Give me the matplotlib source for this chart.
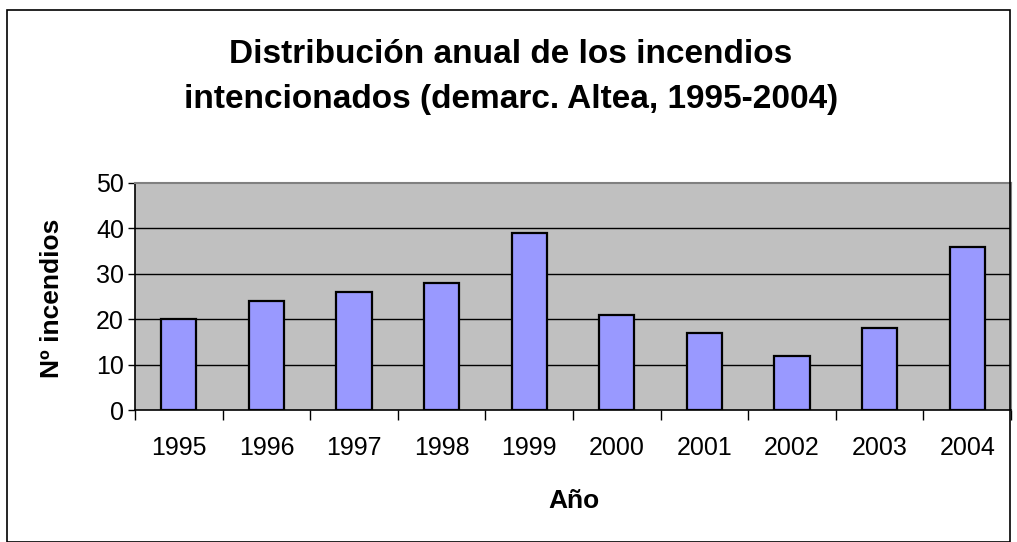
import matplotlib
matplotlib.use("Agg")
import matplotlib.pyplot as plt
from matplotlib.patches import Rectangle

years = ["1995", "1996", "1997", "1998", "1999", "2000", "2001", "2002", "2003", "2004"]
incendios = [20, 24, 26, 28, 39, 21, 17, 12, 18, 36]
yticks = [0, 10, 20, 30, 40, 50]
title_lines = ["Distribución anual de los incendios", "intencionados (demarc. Altea, 1995-2004)"]

plt.rcParams['font.family'] = ['Liberation Sans', 'DejaVu Sans']

W, H = 1017, 542
fig = plt.figure(figsize=(W / 100, H / 100), dpi=100)
fig.patch.set_facecolor('white')

def fx(px):
    return px / W

def fy(py):
    return 1 - py / H

# outer chart border
fig.add_artist(Rectangle((fx(7), 0), fx(1010 - 7), (H - 10) / H, transform=fig.transFigure,
                         fill=False, edgecolor='black', linewidth=1.2))

left, right, top, bottom = 135, 1011, 183, 410
ax = fig.add_axes([fx(left), fy(bottom), fx(right - left), (bottom - top) / H])
ax.set_facecolor('#C0C0C0')

x = list(range(len(years)))
ax.bar(x, incendios, width=0.4, color='#9999FF', edgecolor='black', linewidth=1.6, zorder=3)

ax.set_xlim(-0.5, len(years) - 0.5)
ax.set_ylim(0, 50)
ax.set_yticks(yticks)
ax.set_yticklabels([str(v) for v in yticks], fontsize=18)
for v in yticks[1:-1]:
    ax.axhline(v, color='black', linewidth=1.0, zorder=1)

ax.set_xticks(x)
ax.set_xticklabels(years, fontsize=18)
ax.tick_params(axis='x', which='major', length=0, pad=19)
ax.set_xticks([i + 0.5 for i in range(-1, len(years))], minor=True)
ax.tick_params(axis='x', which='minor', length=7, width=1, color='black', direction='out')
ax.tick_params(axis='y', length=5, width=1, color='black', direction='out', pad=3)

for s in ['top', 'right']:
    ax.spines[s].set_color('#808080')
    ax.spines[s].set_linewidth(1.5)
ax.spines['left'].set_color('black')
ax.spines['bottom'].set_color('black')
ax.spines['left'].set_linewidth(1.2)
ax.spines['bottom'].set_linewidth(1.2)

fig.text(fx(574), fy(508), 'Año', ha='center', va='baseline', fontsize=19, fontweight='bold')
fig.text(fx(52), fy(298), 'Nº incendios', ha='center', va='center', rotation=90,
         fontsize=19, fontweight='bold')

fig.text(fx(511), fy(63), title_lines[0], ha='center', va='baseline', fontsize=24, fontweight='bold')
fig.text(fx(511), fy(108), title_lines[1], ha='center', va='baseline', fontsize=24, fontweight='bold')

fig.savefig('out.png', dpi=100)
